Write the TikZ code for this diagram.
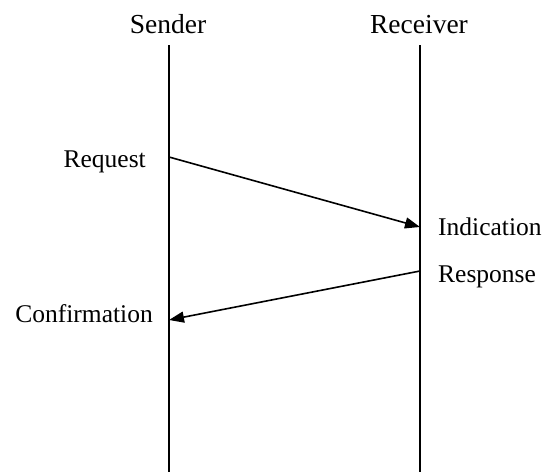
\documentclass[tikz,border=0pt]{standalone}
\usepackage{fontspec}
\setmainfont{Liberation Serif}
\usetikzlibrary{arrows.meta}
\begin{document}
\begin{tikzpicture}[x=1pt,y=-1pt,
  lifeline/.style={line width=1.6pt},
  msg/.style={line width=1.6pt,-{Triangle[length=15pt,width=11pt]}},
  title/.style={font=\fontsize{27.5}{31}\selectfont,anchor=base,inner sep=0pt},
  lbl/.style={font=\fontsize{25.5}{29}\selectfont,anchor=base,inner sep=0pt}]
\useasboundingbox (0,0) rectangle (547,472);
\node[title] (sender) at (168,33) {Sender};
\node[title] (receiver) at (419,33) {Receiver};
\coordinate (stop) at (169,45);
\coordinate (sbot) at (169,472);
\coordinate (rtop) at (420,45);
\coordinate (rbot) at (420,472);
\draw[lifeline] (stop) -- (sbot);
\draw[lifeline] (rtop) -- (rbot);
\coordinate (req) at (169,157);
\coordinate (ind) at (420,227);
\coordinate (resp) at (420,271);
\coordinate (conf) at (169,320);
\draw[msg] (req) -- (ind);
\draw[msg] (resp) -- (conf);
\node[lbl,anchor=base east] (lreq) at (146,167) {Request};
\node[lbl,anchor=base west] (lind) at (438,235) {Indication};
\node[lbl,anchor=base west] (lresp) at (438,282) {Response};
\node[lbl,anchor=base east] (lconf) at (153,322) {Confirmation};
\end{tikzpicture}
\end{document}
